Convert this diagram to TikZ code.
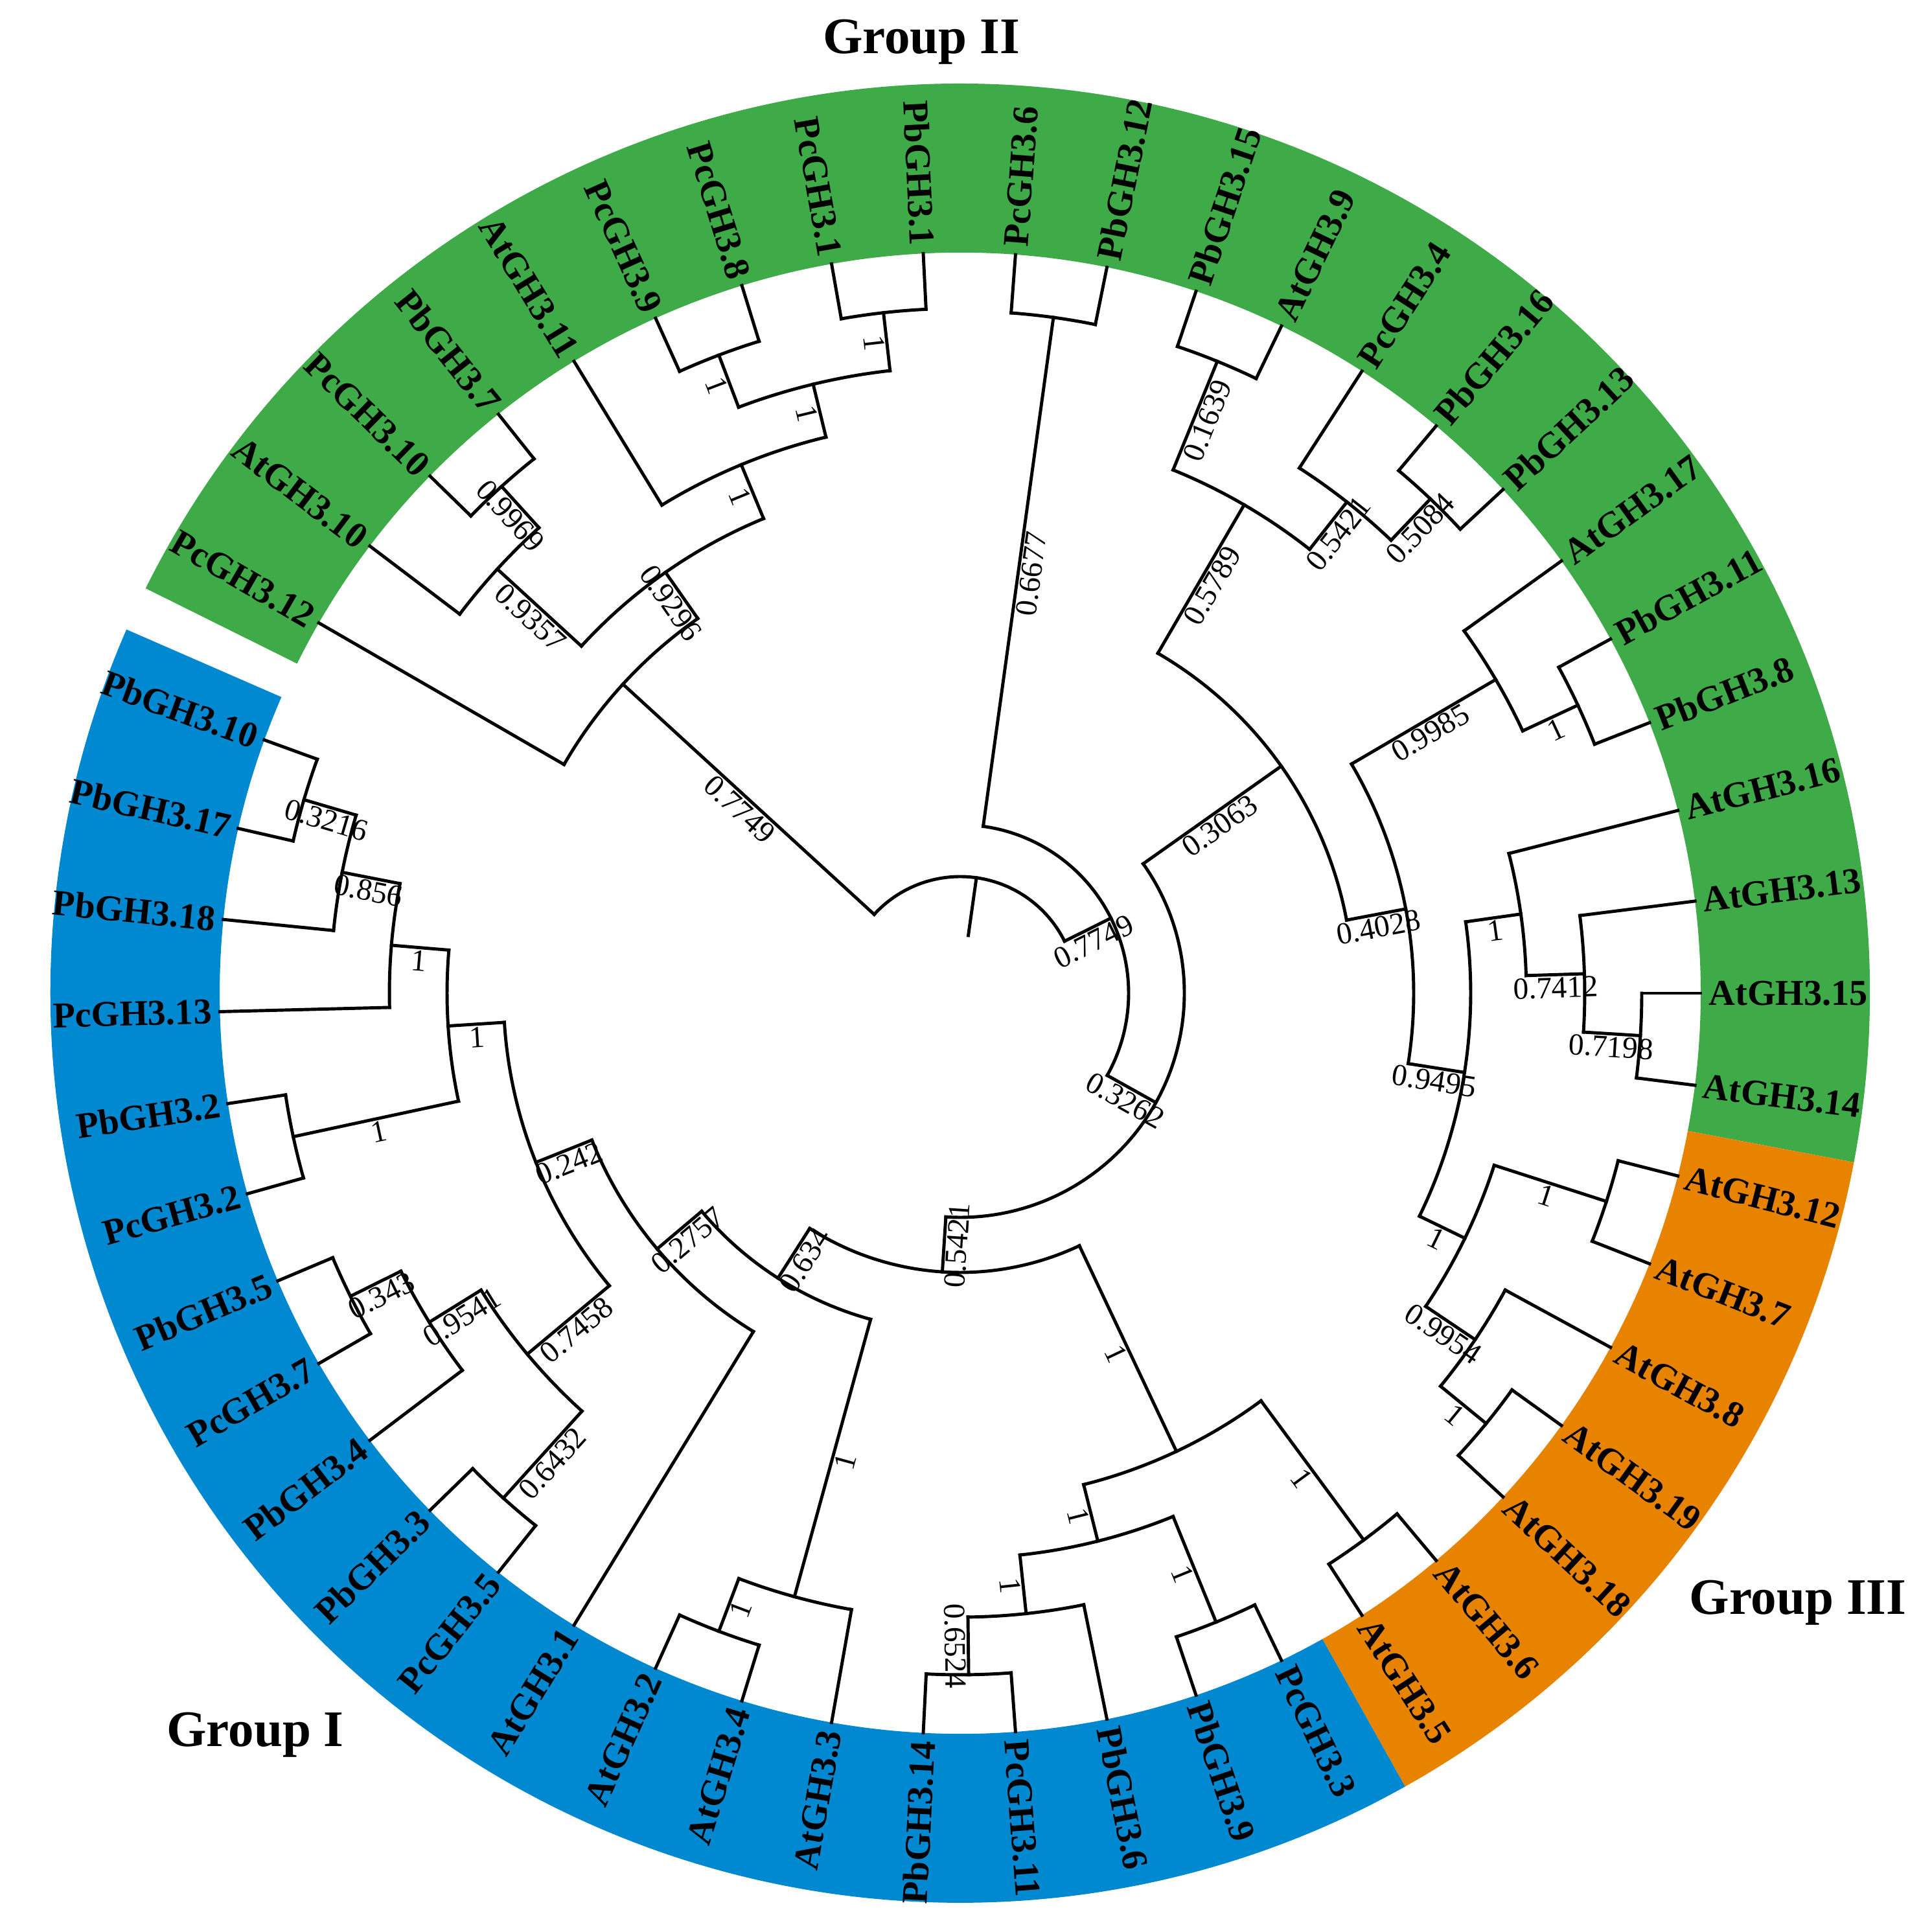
\documentclass[tikz,border=0pt]{standalone}
\usepackage{fontspec}
\setmainfont{Liberation Serif}
\definecolor{grpone}{RGB}{0,136,209}
\definecolor{grptwo}{RGB}{62,170,72}
\definecolor{grpthree}{RGB}{232,131,0}

\tikzset{
  branch/.style={line width=1.4pt, line cap=rect},
  leaflab/.style={font=\fontsize{16}{19}\selectfont\bfseries, inner sep=0pt},
  bootlab/.style={font=\fontsize{13.5}{16}\selectfont, inner sep=1pt, anchor=north},
  grplab/.style={font=\fontsize{22.5}{27}\selectfont\bfseries, anchor=base}
}

% branch of a clade: name, angle, radius, parent radius, support
\newcommand{\twig}[5]{%
  \coordinate (#1) at (#2:#3);
  \coordinate (#1-f) at (#2:#4);
  \draw [branch] (#1) -- (#1-f);
  \pgfmathsetmacro{\labrot}{cos(#2)<0 ? #2+180 : #2}
  \node [bootlab, rotate=\labrot] (#1-s) at (#2:{(#3+#4)/2}) {#5};
}
% arc joining the children: first child, start angle, end angle, radius
\newcommand{\fork}[4]{%
  \draw [branch] (#1-f) arc [start angle=#2, end angle=#3, radius=#4];
}

\begin{document}
\begin{tikzpicture}
\useasboundingbox (-14.82,-14.49) rectangle (15.00,15.33);

\fill [grptwo] (153.571:11.43) arc [start angle=153.571, end angle=-10.714, radius=11.43]
  -- (-10.714:14.04) arc [start angle=-10.714, end angle=153.571, radius=14.04] -- cycle;
\fill [grpthree] (-10.714:11.43) arc [start angle=-10.714, end angle=-60.714, radius=11.43]
  -- (-60.714:14.04) arc [start angle=-60.714, end angle=-10.714, radius=14.04] -- cycle;
\fill [grpone] (-60.714:11.43) arc [start angle=-60.714, end angle=-203.571, radius=11.43]
  -- (-203.571:14.04) arc [start angle=-203.571, end angle=-60.714, radius=14.04] -- cycle;

% leaves
\foreach \i/\pr/\txt in {0/7.06/PcGH3.12, 1/9.69/AtGH3.10, 2/10.55/PcGH3.10, 3/10.55/PbGH3.7,
  4/8.83/AtGH3.11, 5/10.53/PcGH3.9, 6/10.53/PcGH3.8, 7/10.57/PcGH3.1, 8/10.57/PbGH3.1,
  9/10.53/PcGH3.6, 10/10.53/PbGH3.12, 11/10.53/PbGH3.15, 12/10.53/AtGH3.9, 13/9.65/PcGH3.4,
  14/10.53/PbGH3.16, 15/10.53/PbGH3.13, 16/9.58/AtGH3.17, 17/10.52/PbGH3.11, 18/10.52/PbGH3.8,
  19/8.74/AtGH3.16, 20/9.64/AtGH3.13, 21/10.52/AtGH3.15, 22/10.52/AtGH3.14, 23/10.48/AtGH3.12,
  24/10.48/AtGH3.7, 25/9.58/AtGH3.8, 26/10.49/AtGH3.19, 27/10.49/AtGH3.18, 28/10.49/AtGH3.6,
  29/10.49/AtGH3.5, 30/10.48/PcGH3.3, 31/10.48/PbGH3.9, 32/9.63/PbGH3.6, 33/10.52/PcGH3.11,
  34/10.52/PbGH3.14, 35/9.66/AtGH3.3, 36/10.53/AtGH3.4, 37/10.53/AtGH3.2, 38/6.12/AtGH3.1,
  39/10.51/PcGH3.5, 40/10.51/PbGH3.3, 41/9.64/PbGH3.4, 42/10.51/PcGH3.7, 43/10.51/PbGH3.5,
  44/10.53/PcGH3.2, 45/10.53/PbGH3.2, 46/8.81/PcGH3.13, 47/9.72/PbGH3.18, 48/10.56/PbGH3.17,
  49/10.56/PbGH3.10}{
  \pgfmathsetmacro{\ang}{150-7.142857*\i}
  \coordinate (l\i) at (\ang:11.43);
  \coordinate (l\i-f) at (\ang:\pr);
  \draw [branch] (l\i) -- (l\i-f);
  \pgfmathsetmacro{\labrot}{cos(\ang)<0 ? \ang+180 : \ang}
  \pgfmathtruncatemacro{\onleft}{cos(\ang)<0}
  \ifnum\onleft=1 \def\labanchor{east}\else\def\labanchor{west}\fi
  \node [leaflab, rotate=\labrot, anchor=\labanchor] (t\i) at (\ang:11.55) {\txt};
}

% Group II, left part
\twig{n23}{132.143}{10.55}{9.69}{0.9969}
\twig{B}{137.5}{9.69}{7.93}{0.9357}
\twig{n56}{110.714}{10.53}{9.67}{1}
\twig{n78}{96.429}{10.57}{9.67}{1}
\twig{D}{103.571}{9.67}{8.83}{1}
\twig{E}{112.5}{8.83}{7.93}{1}
\twig{F}{125}{7.93}{7.06}{0.9296}
\twig{G}{137.5}{7.06}{1.8}{0.7749}
\fork{l2}{135.714}{128.571}{10.55}
\fork{l1}{142.857}{132.143}{9.69}
\fork{l5}{114.286}{107.143}{10.53}
\fork{l7}{100}{92.857}{10.57}
\fork{n56}{110.714}{96.429}{9.67}
\fork{l4}{121.429}{103.571}{8.83}
\fork{B}{137.5}{112.5}{7.93}
\fork{l0}{150}{125}{7.06}

% Group II, right part and Group III
\twig{I}{82.143}{10.53}{2.6}{0.6677}
\twig{H}{26.472}{2.6}{1.8}{0.7749}
\twig{KM}{67.857}{10.53}{8.72}{0.1639}
\twig{KO}{46.429}{10.53}{9.65}{0.5084}
\twig{KN}{51.786}{9.65}{8.72}{0.5421}
\twig{KA}{59.821}{8.72}{6.07}{0.5789}
\twig{KL}{25}{10.52}{9.58}{1}
\twig{KC}{30.357}{9.58}{7.0}{0.9985}
\twig{KG}{-3.571}{10.52}{9.64}{0.7198}
\twig{KF}{1.786}{9.64}{8.74}{0.7412}
\twig{KE}{8.036}{8.74}{7.88}{1}
\twig{KI}{-17.857}{10.48}{8.66}{1}
\twig{KK}{-39.286}{10.49}{9.58}{1}
\twig{KJ}{-33.929}{9.58}{8.66}{0.9954}
\twig{KH}{-25.893}{8.66}{7.88}{1}
\twig{KD}{-8.929}{7.88}{7.0}{0.9495}
\twig{KB}{10.714}{7.0}{6.07}{0.4028}
\twig{K}{35.268}{6.07}{3.46}{0.3063}
\twig{J}{-29.199}{3.46}{2.6}{0.3262}
\fork{l9}{85.714}{78.571}{10.53}
\fork{I}{82.143}{-29.199}{2.6}
\fork{l11}{71.429}{64.286}{10.53}
\fork{l14}{50}{42.857}{10.53}
\fork{l13}{57.143}{46.429}{9.65}
\fork{KM}{67.857}{51.786}{8.72}
\fork{l17}{28.571}{21.429}{10.52}
\fork{l16}{35.714}{25}{9.58}
\fork{l21}{0}{-7.143}{10.52}
\fork{l20}{7.143}{-3.571}{9.64}
\fork{l19}{14.286}{1.786}{8.74}
\fork{l23}{-14.286}{-21.429}{10.48}
\fork{l26}{-35.714}{-42.857}{10.49}
\fork{l25}{-28.571}{-39.286}{9.58}
\fork{KI}{-17.857}{-33.929}{8.66}
\fork{KE}{8.036}{-25.893}{7.88}
\fork{KC}{30.357}{-8.929}{7.0}
\fork{KA}{59.821}{10.714}{6.07}
\fork{K}{35.268}{-93.666}{3.46}

% Group I
\twig{S}{-89.286}{10.52}{9.63}{0.6524}
\twig{Q}{-83.929}{9.63}{8.72}{1}
\twig{R}{-67.857}{10.48}{8.72}{1}
\twig{O}{-75.893}{8.72}{7.82}{1}
\twig{P}{-53.571}{10.49}{7.82}{1}
\twig{N}{-64.732}{7.82}{4.31}{1}
\twig{V}{-110.714}{10.53}{9.66}{1}
\twig{U}{-105.357}{9.66}{5.22}{1}
\twig{AC}{-132.143}{10.51}{8.70}{0.6432}
\twig{n4243}{-153.571}{10.51}{9.64}{0.343}
\twig{AA}{-148.214}{9.64}{8.70}{0.9541}
\twig{AD}{-140.179}{8.70}{7.05}{0.7458}
\twig{Y4}{-167.857}{10.53}{7.92}{1}
\twig{n4849}{-196.429}{10.56}{9.72}{0.3216}
\twig{Y1}{-191.071}{9.72}{8.81}{0.856}
\twig{Y2}{-184.821}{8.81}{7.92}{1}
\twig{Y3}{-176.339}{7.92}{7.05}{1}
\twig{Y5}{-158.259}{7.05}{6.12}{0.242}
\twig{X}{-139.844}{6.12}{5.22}{0.2757}
\twig{M}{-122.6}{5.22}{4.31}{0.634}
\twig{L}{-93.666}{4.31}{3.46}{0.5421}
\fork{l33}{-85.714}{-92.857}{10.52}
\fork{l32}{-78.571}{-89.286}{9.63}
\fork{l30}{-64.286}{-71.429}{10.48}
\fork{Q}{-83.929}{-67.857}{8.72}
\fork{l28}{-50}{-57.143}{10.49}
\fork{P}{-53.571}{-75.893}{7.82}
\fork{l36}{-107.143}{-114.286}{10.53}
\fork{l35}{-100}{-110.714}{9.66}
\fork{l39}{-128.571}{-135.714}{10.51}
\fork{l42}{-150}{-157.143}{10.51}
\fork{l41}{-142.857}{-153.571}{9.64}
\fork{AC}{-132.143}{-148.214}{8.70}
\fork{l44}{-164.286}{-171.429}{10.53}
\fork{l48}{-192.857}{-200}{10.56}
\fork{l47}{-185.714}{-196.429}{9.72}
\fork{l46}{-178.571}{-191.071}{8.81}
\fork{Y4}{-167.857}{-184.821}{7.92}
\fork{AD}{-140.179}{-176.339}{7.05}
\fork{l38}{-121.429}{-158.259}{6.12}
\fork{U}{-105.357}{-139.844}{5.22}
\fork{N}{-64.732}{-122.6}{4.31}

% root
\coordinate (root) at (81.986:1.8);
\coordinate (root-s) at (81.986:0.9);
\draw [branch] (root) -- (root-s);
\fork{G}{137.5}{26.472}{1.8}

\node [grplab] (g2) at (-0.60,14.50) {Group II};
\node [grplab] (g1) at (-10.88,-11.62) {Group I};
\node [grplab] (g3) at (12.93,-9.58) {Group III};
\end{tikzpicture}
\end{document}
